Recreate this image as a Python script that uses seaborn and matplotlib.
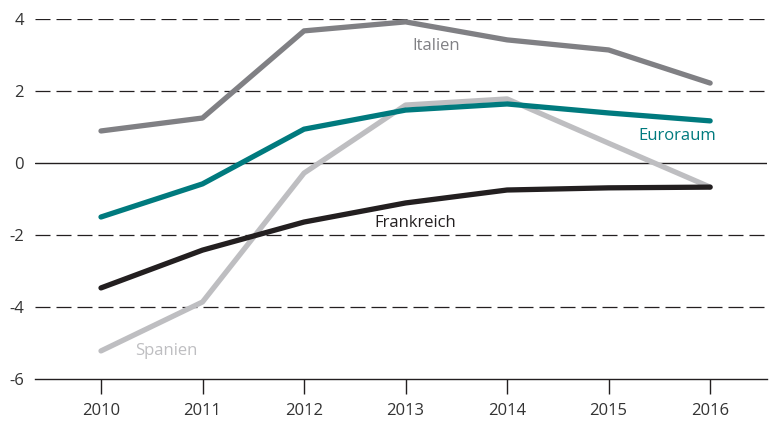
import matplotlib
matplotlib.use("Agg")
import matplotlib.pyplot as plt
import seaborn as sns
import pandas as pd

years = [2010, 2011, 2012, 2013, 2014, 2015, 2016]
italien = [0.89, 1.25, 3.67, 3.92, 3.42, 3.14, 2.22]
euroraum = [-1.50, -0.58, 0.94, 1.47, 1.64, 1.39, 1.17]
spanien = [-5.22, -3.86, -0.28, 1.61, 1.78, 0.55, -0.67]
frankreich = [-3.47, -2.42, -1.64, -1.11, -0.75, -0.69, -0.67]
series_names = ["Spanien", "Italien", "Euroraum", "Frankreich"]
colors = {"Spanien": "#BEBEC1", "Italien": "#808084", "Euroraum": "#007A7E", "Frankreich": "#231F20"}
y_ticks = [-6, -4, -2, 0, 2, 4]

df = pd.DataFrame({
    "Jahr": years * 4,
    "Wert": spanien + italien + euroraum + frankreich,
    "Serie": sum([[n] * len(years) for n in series_names], []),
})

sns.set_theme(style="white")
plt.rcParams["font.family"] = ["Open Sans", "DejaVu Sans"]

fig = plt.figure(figsize=(7.75, 4.21), dpi=100)
ax = fig.add_axes([35 / 775, 1 - 379 / 421, (767 - 35) / 775, (379 - 19) / 421])

for yv in y_ticks:
    if yv == 0:
        ax.axhline(yv, color="#231F20", lw=1.0, zorder=1)
    elif yv != -6:
        ax.axhline(yv, color="#231F20", lw=0.9, ls=(0, (12, 4.8)), zorder=1)

sns.lineplot(data=df, x="Jahr", y="Wert", hue="Serie", hue_order=series_names,
             palette=colors, linewidth=3.8, legend=False, ax=ax, zorder=3,
             solid_capstyle="round")

ax.set_xlim(2009.35, 2016.56)
ax.set_ylim(-6, 4)
ax.set_yticks(y_ticks)
ax.set_yticklabels([str(v) for v in y_ticks])
ax.set_xticks(years)
ax.set_xticklabels([str(y) for y in years])
ax.set_xlabel("")
ax.set_ylabel("")
for s in ["top", "right", "left"]:
    ax.spines[s].set_visible(False)
ax.spines["bottom"].set_color("#231F20")
ax.spines["bottom"].set_linewidth(1.0)
ax.tick_params(axis="x", direction="out", length=11, width=1.0, color="#231F20",
               labelsize=12, labelcolor="#333333", pad=6, bottom=True)
ax.tick_params(axis="y", length=0, labelsize=12, labelcolor="#333333", pad=8)

ax.text(2013.3, 3.25, "Italien", color="#808084", fontsize=12, ha="center", va="center")
ax.text(2015.68, 0.75, "Euroraum", color="#007A7E", fontsize=12, ha="center", va="center")
ax.text(2013.1, -1.67, "Frankreich", color="#231F20", fontsize=12, ha="center", va="center")
ax.text(2010.64, -5.22, "Spanien", color="#BEBEC1", fontsize=12, ha="center", va="center")

fig.savefig("out.png", dpi=100)
